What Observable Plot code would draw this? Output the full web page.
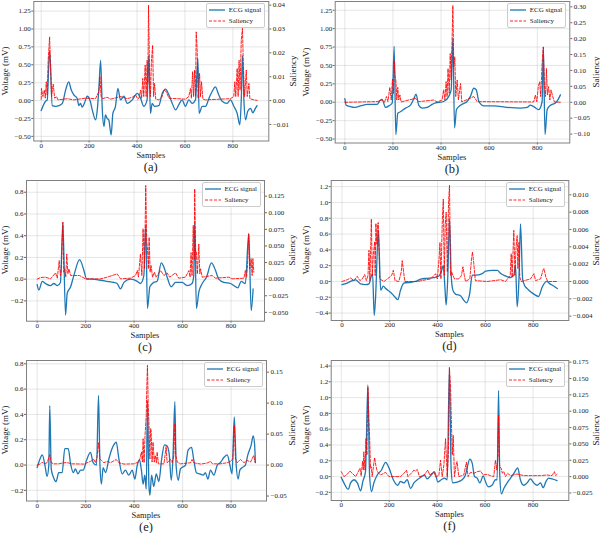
<!DOCTYPE html>
<html><head><meta charset="utf-8">
<script src="https://cdn.jsdelivr.net/npm/d3@7"></script>
<script src="https://cdn.jsdelivr.net/npm/@observablehq/plot@0.6"></script>
<style>
body{margin:0;background:#fff;}
#chart{position:relative;width:600px;height:533px;font-family:"Liberation Serif",serif;color:#222;overflow:hidden;background:#fff;}
.layer{position:absolute;}
.layer svg{position:absolute;left:0;top:0;}
.lbl{position:absolute;font-size:8.5px;white-space:nowrap;transform:translate(-50%,-50%);}
.rot{font-size:9px;transform:translate(-50%,-50%) rotate(-90deg);}
.cap{position:absolute;font-size:12.5px;white-space:nowrap;transform:translate(-50%,-50%);}
.legend{position:absolute;border:1px solid #ccc;border-radius:2px;background:rgba(255,255,255,0.85);font-size:7px;padding:1px 3px 1px 2px;}
.legend .row{display:flex;align-items:center;height:10.5px;gap:4px;white-space:nowrap;}
</style></head><body><div id="chart"></div><script>
// ---------- data ----------
const xTicks = [0, 200, 400, 600, 800];

const ecgA = [[0,-0.14],[18,-0.01],[25,0.01],[35,0.70],[46,-0.07],[60,-0.08],[74,-0.07],[88,-0.04],[102,0.15],[115,0.26],[125,0.15],[136,0.08],[150,0.03],[157,-0.07],[164,-0.04],[171,-0.09],[181,-0.03],[192,0.06],[203,0.01],[213,-0.13],[227,-0.27],[234,-0.13],[241,0.19],[248,0.56],[255,-0.13],[262,-0.36],[268,-0.20],[275,-0.25],[282,-0.27],[292,-0.48],[299,-0.18],[310,-0.08],[320,0.17],[331,0.01],[345,0.06],[359,-0.04],[380,0.01],[401,0.10],[415,0.03],[428,-0.08],[442,0.01],[449,0.63],[456,-0.18],[463,-0.04],[473,-0.08],[491,-0.07],[505,0.10],[519,0.16],[533,0.08],[547,-0.04],[561,-0.13],[574,-0.06],[588,0.01],[602,-0.08],[616,0.01],[630,-0.04],[644,0.01],[654,0.59],[659,-0.18],[672,-0.08],[686,-0.08],[700,0.03],[714,0.13],[727,0.19],[741,0.08],[755,-0.01],[776,-0.04],[790,0.01],[804,-0.08],[818,-0.18],[829,-0.34],[835,0.01],[840,0.63],[846,0.01],[853,-0.27],[862,-0.15],[874,-0.11],[883,-0.17],[894,-0.11],[901,-0.07]];
const salA = [[0,0.0005],[1,0.0051],[7,0.0017],[13,0.0044],[17,0.001],[21,0.0079],[25,0.0024],[29,0.0169],[35,0.0267],[39,0.0142],[43,0.0017],[50,0.0069],[56,0.001],[64,0.0017],[70,0.0003],[95,0.0006],[108,0.0008],[136,0.0003],[185,0.001],[227,0.0008],[234,0.0024],[241,0.0038],[245,0.010],[250,0.0017],[256,0.0008],[275,0.0014],[289,0.0006],[310,0.0011],[331,0.0017],[359,0.0008],[380,0.0014],[394,0.0024],[403,0.0006],[408,0.001],[415,0.0044],[419,0.001],[424,0.0093],[428,0.0017],[434,0.0149],[438,0.0017],[442,0.0169],[445,0.0072],[448,0.040],[452,0.0142],[456,0.0017],[460,0.0163],[465,0.0232],[469,0.0017],[473,0.0072],[478,0.0006],[491,0.0003],[505,0.0017],[512,0.0044],[522,0.0038],[533,0.001],[602,0.0006],[616,0.0017],[623,0.0051],[627,0.001],[632,0.0121],[636,0.0017],[640,0.0128],[644,0.0017],[647,0.0288],[651,0.0211],[655,0.001],[661,0.0114],[665,0.0017],[669,0.0079],[675,0.0006],[686,0.0003],[748,0.0006],[790,0.0008],[804,0.0017],[808,0.0079],[812,0.0017],[818,0.0135],[822,0.0017],[826,0.0169],[830,0.0044],[835,0.0253],[840,0.0303],[844,0.0142],[849,0.0017],[856,0.0128],[860,0.0017],[867,0.0072],[871,0.0008],[888,0.0003],[901,0.0001]];

const ecgB = [[0,0.05],[6,-0.04],[24,-0.06],[37,-0.07],[65,-0.05],[93,-0.03],[134,-0.03],[148,0.03],[155,0.04],[169,-0.07],[183,-0.05],[197,-0.01],[205,0.76],[212,-0.44],[220,-0.15],[231,-0.13],[252,-0.08],[273,-0.04],[287,0.05],[296,0.11],[307,-0.04],[321,-0.08],[342,-0.07],[363,-0.03],[377,-0.01],[411,0.01],[432,0.08],[442,0.17],[449,0.87],[456,-0.35],[464,-0.10],[481,-0.04],[508,0.01],[522,0.08],[536,0.19],[546,0.17],[557,0.01],[578,-0.05],[619,-0.05],[674,-0.07],[730,-0.08],[758,-0.07],[771,-0.04],[785,-0.06],[806,-0.10],[820,0.01],[825,0.75],[832,-0.44],[841,-0.10],[855,-0.04],[875,-0.01],[885,0.03],[896,0.10]];
const salB = [[0,0],[134,0.002],[155,0.007],[165,0.0005],[173,0.018],[179,0.002],[187,0.047],[193,0.007],[198,0.073],[202,0.028],[205,0.131],[209,0.08],[212,0.070],[216,0.007],[220,0.047],[224,0.007],[229,0.023],[234,0.001],[294,0.0125],[307,0.002],[370,0.007],[384,0.001],[404,0.007],[411,0.039],[416,0.007],[421,0.065],[425,0.018],[429,0.106],[434,0.028],[438,0.153],[442,0.07],[449,0.304],[453,0.111],[457,0.143],[461,0.018],[467,0.070],[472,0.007],[481,0.059],[486,0.001],[536,0.018],[550,0.002],[785,0.001],[792,0.023],[798,0.002],[804,0.049],[810,0.065],[814,0.018],[820,0.122],[825,0.174],[829,0.06],[834,0.018],[838,0.106],[842,0.023],[847,0.049],[852,0.007],[857,0.039],[864,0.018],[871,0.001],[896,0]];

const ecgC = [[0,-0.05],[7,-0.10],[21,-0.02],[34,-0.04],[55,-0.06],[69,-0.04],[83,-0.06],[96,-0.03],[106,0.52],[117,-0.33],[124,-0.13],[138,-0.07],[151,0.03],[175,0.18],[193,0.08],[204,0.0],[227,0.0],[261,-0.01],[289,-0.02],[316,-0.03],[330,-0.04],[344,-0.09],[358,-0.03],[385,0.0],[413,-0.02],[426,-0.04],[440,0.03],[448,0.50],[455,-0.27],[465,-0.07],[481,-0.03],[495,-0.02],[512,0.15],[523,0.11],[536,0.02],[553,-0.07],[571,-0.03],[598,-0.03],[619,-0.06],[639,-0.04],[646,0.03],[650,0.51],[657,-0.27],[667,-0.12],[681,-0.04],[699,0.02],[719,0.15],[736,0.08],[749,0.0],[770,-0.03],[798,-0.04],[828,-0.08],[842,-0.02],[859,-0.04],[873,0.42],[883,-0.29],[891,-0.09]];
const salC = [[0,0],[14,0.0025],[34,0.003],[55,0.0005],[76,0.0095],[83,0.0015],[91,0.028],[96,0.0055],[100,0.0156],[106,0.086],[110,0.0105],[114,0.0156],[118,0.003],[122,0.038],[127,0.008],[131,0.0156],[138,0.0055],[151,0.0055],[175,0.0055],[199,0.0005],[261,0.0005],[289,0.003],[330,0.008],[344,0.0005],[385,0.0015],[406,0.0055],[413,0.013],[418,0.003],[426,0.038],[432,0.0055],[437,0.076],[443,0.0156],[448,0.141],[452,0.056],[455,0.048],[459,0.0156],[462,0.063],[466,0.0105],[470,0.0206],[476,0.003],[484,0.0105],[490,0.003],[509,0.013],[523,0.0055],[536,0.0095],[547,0.003],[571,0.0095],[584,0.0015],[612,0.003],[626,0.013],[631,0.003],[635,0.040],[639,0.0055],[644,0.081],[648,0.03],[650,0.136],[654,0.041],[657,0.041],[661,0.008],[667,0.053],[671,0.008],[674,0.0156],[681,0.003],[722,0.0055],[736,0.0015],[791,0.003],[804,0.0005],[853,0.0015],[859,0.013],[864,0.003],[868,0.0206],[873,0.068],[877,0.0156],[883,0.031],[887,0.0055],[890,0.031],[894,0.0105]];

const ecgD = [[0,-0.04],[22,-0.02],[43,0.01],[57,0.02],[78,-0.03],[99,-0.04],[113,-0.03],[124,0.08],[128,0.10],[135,-0.43],[141,-0.18],[148,0.41],[152,0.65],[156,0.37],[162,-0.11],[173,-0.06],[183,-0.09],[204,-0.14],[217,-0.18],[234,-0.23],[245,-0.11],[259,-0.02],[287,-0.01],[308,0.0],[329,0.03],[357,0.04],[385,0.05],[406,0.07],[415,0.12],[424,0.20],[431,-0.09],[436,-0.30],[443,0.08],[450,0.79],[457,0.08],[464,-0.11],[475,-0.16],[496,-0.18],[510,-0.24],[520,-0.27],[534,-0.16],[545,0.08],[559,0.08],[587,0.10],[601,0.13],[629,0.14],[650,0.14],[664,0.10],[684,0.07],[705,0.05],[719,0.08],[726,0.20],[733,-0.32],[740,-0.01],[747,0.73],[756,0.03],[764,-0.05],[775,-0.09],[789,-0.13],[803,-0.16],[822,-0.19],[838,-0.07],[856,0.0],[870,-0.03],[887,-0.06],[901,-0.09]];
const salD = [[0,0],[22,0.0002],[36,0.0004],[50,0.0001],[64,0.0006],[75,0.0001],[85,0.0003],[95,0.0008],[102,0.0001],[109,0.0007],[113,0.0036],[117,0.0001],[123,0.0072],[127,0.0007],[131,0.0030],[137,0.0046],[139,0.0007],[142,0.0067],[146,0.0043],[149,0.0065],[152,0.0068],[155,0.0041],[158,0.0003],[176,0],[190,0.0003],[208,0.0007],[215,0.0013],[222,0.0001],[238,0],[248,0.0011],[252,0.0024],[258,0.0011],[263,0],[315,0],[371,0.0003],[392,0.0009],[399,0.0003],[406,0.0026],[410,0.0045],[414,0.0003],[420,0.0072],[424,0.0095],[428,0.0007],[432,0.0065],[436,0.0080],[441,0.0011],[446,0.0092],[450,0.0111],[454,0.0007],[459,0.0011],[464,0.0007],[471,0.0003],[489,0.0003],[500,0.0007],[506,0.0017],[512,0.0007],[517,0],[535,0.0003],[542,0.0026],[546,0.0034],[551,0.0022],[558,0.0001],[608,0],[664,0.0002],[684,0],[698,0.0005],[704,0.0007],[708,0.0032],[712,0.0005],[717,0.0045],[719,0.0059],[724,0.0007],[728,0.0038],[733,0.0053],[736,0.0015],[740,0.0045],[744,0.0005],[750,0],[789,0.0003],[803,0.0009],[810,0.0001],[831,0.0003],[841,0.0013],[845,0.0015],[853,0.0005],[861,0],[901,0]];

const ecgE = [[0,-0.02],[10,0.04],[21,0.08],[32,0.0],[41,-0.09],[48,0.0],[52,0.47],[58,-0.03],[66,-0.09],[78,-0.13],[89,-0.06],[103,-0.06],[114,0.13],[128,0.13],[138,0.01],[149,-0.06],[158,-0.03],[168,-0.07],[179,-0.04],[190,-0.04],[204,0.04],[220,0.10],[231,0.02],[245,0.0],[253,0.55],[259,0.0],[265,-0.15],[272,-0.02],[282,-0.06],[296,0.05],[309,0.13],[326,0.18],[337,0.05],[351,-0.07],[364,-0.04],[378,-0.08],[392,-0.04],[403,-0.11],[413,0.0],[422,0.04],[430,-0.04],[437,-0.15],[444,-0.08],[450,-0.19],[455,0.51],[461,-0.16],[465,-0.24],[472,-0.08],[481,-0.17],[491,-0.07],[502,-0.13],[513,0.04],[525,0.16],[536,0.15],[545,0.08],[553,-0.12],[560,0.05],[568,0.50],[573,0.0],[582,-0.12],[591,-0.03],[612,0.0],[623,0.12],[637,0.14],[646,0.04],[657,-0.06],[671,-0.07],[685,-0.08],[694,-0.06],[704,-0.11],[715,-0.04],[729,-0.08],[743,0.0],[756,0.02],[770,0.06],[784,0.08],[795,0.0],[804,-0.07],[813,0.38],[821,0.0],[829,-0.11],[836,-0.04],[846,-0.02],[859,0.0],[869,0.08],[883,0.16],[891,0.23],[897,0.16],[900,0.02]];
const salE = [[0,0],[14,0.002],[21,0.0048],[28,0.002],[41,0.0038],[52,0.0167],[58,0.0038],[69,0.002],[89,0.002],[110,0.0038],[124,0.0038],[144,0.002],[193,0.0016],[220,0.006],[234,0.009],[241,0.0038],[248,0.015],[253,0.036],[259,0.01],[265,0.0075],[275,0.0038],[289,0.006],[303,0.0038],[326,0.009],[337,0.0038],[358,0.0016],[399,0.002],[417,0.0048],[424,0.010],[430,0.021],[434,0.0048],[437,0.0425],[441,0.0038],[445,0.048],[450,0.080],[452,0.123],[455,0.161],[458,0.096],[461,0.069],[465,0.010],[468,0.059],[470,0.056],[474,0.0048],[478,0.037],[483,0.0048],[487,0.0156],[492,0.0038],[495,0.021],[500,0.002],[523,0.002],[532,0.030],[536,0.0038],[550,0.009],[557,0.0038],[564,0.0156],[568,0.067],[572,0.0156],[578,0.0048],[591,0.002],[633,0.0038],[639,0.009],[646,0.0038],[674,0.0016],[701,0.0032],[715,0.006],[723,0.002],[756,0.002],[784,0.0038],[798,0.006],[807,0.010],[813,0.064],[818,0.010],[825,0.0038],[839,0.009],[853,0.0038],[866,0.0075],[880,0.0048],[890,0.013],[894,0.0156],[898,0.006],[900,0.0038]];

const ecgF = [[0,-0.01],[11,-0.08],[29,-0.16],[39,-0.08],[53,-0.04],[67,-0.08],[81,-0.18],[90,-0.06],[101,0.06],[111,1.16],[118,0.02],[126,-0.19],[136,-0.08],[150,0.02],[167,0.08],[185,0.18],[199,0.11],[217,-0.04],[236,-0.11],[247,-0.06],[261,-0.08],[275,-0.04],[289,-0.15],[303,-0.08],[317,-0.04],[331,-0.01],[347,0.02],[358,-0.03],[375,0.02],[389,0.06],[403,-0.07],[417,-0.04],[431,-0.02],[442,-0.04],[451,1.37],[458,0.11],[465,-0.08],[483,-0.07],[504,-0.04],[518,0.02],[525,0.11],[536,0.22],[546,0.17],[556,0.0],[567,-0.02],[578,-0.08],[592,0.01],[601,-0.06],[613,-0.13],[629,-0.11],[643,-0.04],[650,-0.04],[656,1.09],[661,0.02],[668,-0.22],[678,-0.15],[692,-0.08],[706,-0.02],[720,0.04],[736,0.11],[747,-0.04],[761,-0.11],[775,-0.08],[789,-0.03],[803,-0.08],[817,-0.11],[831,-0.08],[842,-0.14],[854,-0.06],[865,-0.02],[879,-0.03],[900,-0.05]];
const salF = [[0,0.0076],[11,0],[25,0.0035],[36,0.0086],[46,0.005],[60,0],[78,0.0127],[83,0.001],[89,0.0238],[92,0.01],[94,0.038],[99,0.01],[103,0.058],[107,0.033],[111,0.137],[115,0.084],[118,0.063],[122,0.0127],[125,0.015],[129,0],[135,0.0177],[139,0.029],[144,0.0177],[150,0.0076],[164,0.0025],[185,0.0066],[199,0],[247,0],[268,0.0076],[272,0.010],[278,0],[296,0.0066],[303,0.010],[310,0.0086],[317,0.011],[326,0],[344,0.0015],[361,0.010],[369,0.0025],[379,0.005],[386,0.0076],[393,0],[407,0.0015],[414,0.025],[421,0],[428,0.0177],[435,0.058],[442,0],[447,0.038],[451,0.167],[456,0.134],[458,0.104],[463,0.033],[467,0.063],[472,0],[479,0.0177],[483,0.023],[490,0],[511,0.0025],[522,0.022],[529,0],[539,0.0066],[553,0.005],[567,0.0076],[581,0.0086],[592,0.0025],[608,0.0035],[622,0.0015],[636,0],[643,0.025],[649,0.010],[653,0.033],[656,0.094],[658,0.033],[661,0.015],[667,0.0127],[672,0.005],[678,0.0076],[685,0],[694,0.005],[706,0.0015],[733,0.004],[761,0.0015],[803,0.0015],[831,0.0015],[858,0.0025],[879,0.0015],[889,0.0076],[894,0.0015],[900,0.0035]];

const voltTicksA = [-0.5,-0.25,0,0.25,0.5,0.75,1,1.25];
const salTicksA  = [-0.01,0,0.01,0.02,0.03,0.04];
const voltTicksB = [-0.5,-0.25,0,0.25,0.5,0.75,1,1.25];
const salTicksB  = [-0.10,-0.05,0,0.05,0.10,0.15,0.20,0.25,0.30];
const voltTicksC = [-0.2,0,0.2,0.4,0.6,0.8];
const salTicksC  = [-0.05,-0.025,0,0.025,0.05,0.075,0.1,0.125];
const voltTicksD = [-0.4,-0.2,0,0.2,0.4,0.6,0.8,1.0,1.2];
const salTicksD  = [-0.004,-0.002,0,0.002,0.004,0.006,0.008,0.010];
const voltTicksE = [-0.2,0,0.2,0.4,0.6,0.8];
const salTicksE  = [-0.05,0,0.05,0.10,0.15];
const voltTicksF = [-0.2,0,0.2,0.4,0.6,0.8,1.0,1.2,1.4];
const salTicksF  = [-0.025,0,0.025,0.05,0.075,0.1,0.125,0.15,0.175];

const captions = ["(a)","(b)","(c)","(d)","(e)","(f)"];
const legendLabels = ["ECG signal","Saliency"];
const axisLabels = {x:"Samples", y:"Voltage (mV)", y2:"Saliency"};

// ---------- layout ----------
const panels = [
 {cap:captions[0], ecg:ecgA, sal:salA, vT:voltTicksA, sT:salTicksA, vF:".2f", sF:".2f", xDom:[-31,950], vDom:[-0.565,1.384], sDom:[-0.01694,0.04153], col:0,   L:33.3, R:268.3, T:1,   B:140.5, vx:5,   sx:293},
 {cap:captions[1], ecg:ecgB, sal:salB, vT:voltTicksB, sT:salTicksB, vF:".2f", sF:".2f", xDom:[-40,935], vDom:[-0.554,1.369], sDom:[-0.128,0.3167], col:300, L:334.7, R:569.3, T:1,   B:142.5, vx:306, sx:596},
 {cap:captions[2], ecg:ecgC, sal:salC, vT:voltTicksC, sT:salTicksC, vF:".1f", sF:".3f", xDom:[-44,938], vDom:[-0.387,0.908], sDom:[-0.0633,0.1486], col:0,   L:26,    R:264,   T:180, B:320.7, vx:4.5, sx:292},
 {cap:captions[3], ecg:ecgD, sal:salD, vT:voltTicksD, sT:salTicksD, vF:".1f", sF:".3f", xDom:[-45,949], vDom:[-0.494,1.278], sDom:[-0.0045,0.01165], col:300, L:330.7, R:568.3, T:180, B:320,   vx:306, sx:595.5},
 {cap:captions[4], ecg:ecgE, sal:salE, vT:voltTicksE, sT:salTicksE, vF:".1f", sF:".2f", xDom:[-44,946], vDom:[-0.284,0.826], sDom:[-0.058,0.1688], col:0,   L:26,    R:266,   T:360, B:500.5, vx:4.5, sx:292},
 {cap:captions[5], ecg:ecgF, sal:salF, vT:voltTicksF, sT:salTicksF, vF:".1f", sF:".3f", xDom:[-42,949], vDom:[-0.303,1.47], sDom:[-0.0365,0.1775], col:300, L:330.7, R:568.3, T:360, B:500,   vx:306, sx:595.5}
];

const chart = document.getElementById("chart");
const BLUE = "#1f77b4", RED = "#ff0000";
const fontStyle = {background:"transparent", fontFamily:'"Liberation Serif", serif', fontSize:"7px", color:"#222", overflow:"visible"};

function addDiv(cls, text, x, y) {
  const d = document.createElement("div");
  d.className = cls; d.textContent = text;
  d.style.left = x + "px"; d.style.top = y + "px";
  chart.appendChild(d); return d;
}

for (const p of panels) {
  const mTop = 6, mBot = 14;
  const H = Math.round((p.B - p.T) + mTop + mBot);
  const common = {width:300, height:H, marginLeft:p.L - p.col, marginRight:p.col + 300 - p.R, marginTop:mTop, marginBottom:H - mTop - (p.B - p.T), style:fontStyle};
  const layer = document.createElement("div");
  layer.className = "layer";
  layer.style.left = p.col + "px"; layer.style.top = (p.T - mTop) + "px";
  layer.style.width = "300px"; layer.style.height = H + "px";
  chart.appendChild(layer);

  const base = Plot.plot({...common,
    x:{domain:p.xDom}, y:{domain:p.vDom},
    marks:[
      Plot.gridX(xTicks, {stroke:"#b0b0b0", strokeOpacity:0.4, strokeWidth:0.8}),
      Plot.gridY(p.vT, {stroke:"#b0b0b0", strokeOpacity:0.4, strokeWidth:0.8}),
      Plot.axisX(xTicks, {tickSize:2, tickPadding:0, stroke:"#666", label:null, tickFormat:d3.format("d")}),
      Plot.axisY(p.vT, {tickSize:2, tickPadding:1, stroke:"#666", label:null, tickFormat:d3.format(p.vF)}),
      Plot.line(p.ecg, {x:d => d[0], y:d => d[1], stroke:BLUE, strokeWidth:1.3, curve:"monotone-x"})
    ]});
  const over = Plot.plot({...common,
    x:{domain:p.xDom, axis:null}, y:{domain:p.sDom},
    marks:[
      Plot.line(p.sal, {x:d => d[0], y:d => d[1], stroke:RED, strokeWidth:1, strokeOpacity:0.85, strokeDasharray:"3,1.5"}),
      Plot.axisY(p.sT, {anchor:"right", tickSize:2, tickPadding:2, stroke:"#666", label:null, tickFormat:d3.format(p.sF)}),
      Plot.frame({stroke:"#808080", strokeWidth:1})
    ]});
  layer.appendChild(base); layer.appendChild(over);

  const midX = (p.L + p.R) / 2, midY = (p.T + p.B) / 2;
  addDiv("lbl rot", axisLabels.y, p.vx, midY);
  addDiv("lbl rot", axisLabels.y2, p.sx, midY);
  addDiv("lbl", axisLabels.x, midX, p.B + 14);
  addDiv("cap", p.cap, midX, p.B + 26);

  const lg = document.createElement("div");
  lg.className = "legend";
  lg.style.right = (600 - (p.R - 3)) + "px";
  lg.style.top = (p.T + 2) + "px";
  lg.innerHTML =
    `<div class="row"><svg width="16" height="6"><line x1="0" y1="3" x2="16" y2="3" stroke="${BLUE}" stroke-width="1.3"/></svg><span>${legendLabels[0]}</span></div>` +
    `<div class="row"><svg width="16" height="6"><line x1="0" y1="3" x2="16" y2="3" stroke="${RED}" stroke-opacity="0.85" stroke-width="1" stroke-dasharray="3,1.5"/></svg><span>${legendLabels[1]}</span></div>`;
  chart.appendChild(lg);
}
</script></body></html>
